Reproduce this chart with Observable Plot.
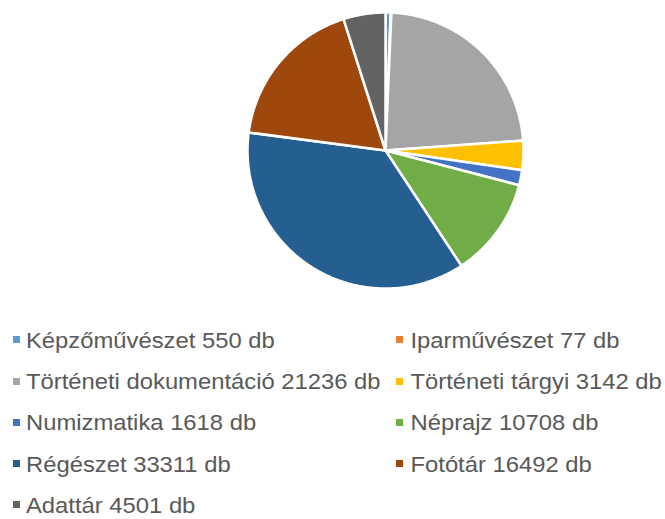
<!DOCTYPE html>
<html>
<head>
<meta charset="utf-8">
<script src="https://cdn.jsdelivr.net/npm/d3@7"></script>
<script src="https://cdn.jsdelivr.net/npm/@observablehq/plot@0.6"></script>
<style>
  html, body { margin: 0; padding: 0; background: #fff; }
  #wrap { position: relative; width: 665px; height: 519px; overflow: hidden; font-family: "Liberation Sans", Arial, sans-serif; }
  #chart { position: absolute; left: 0; top: 0; }
  .lg { position: absolute; white-space: nowrap; font-size: 23.8px; color: #595959; line-height: 24px; transform: scale(1, 0.92); transform-origin: 0 0; }
  .sw { position: absolute; width: 7px; height: 7px; }
</style>
</head>
<body>
<div id="wrap"><div id="chart"></div></div>
<script>
const categories = ["Képzőművészet", "Iparművészet", "Történeti dokumentáció", "Történeti tárgyi", "Numizmatika", "Néprajz", "Régészet", "Fotótár", "Adattár"];
const values = [550, 77, 21236, 3142, 1618, 10708, 33311, 16492, 4501];
const colors = ["#5B9BD5", "#ED7D31", "#A5A5A5", "#FFC000", "#4472C4", "#70AD47", "#255E91", "#9E480E", "#636363"];
const unit = "db";

const arcs = d3.pie().sort(null).value(d => d.value)(categories.map((c, i) => ({cat: c, value: values[i]})));
const pts = [];
for (const a of arcs) {
  const cat = a.data.cat;
  pts.push({cat, x: 0, y: 0});
  const n = Math.max(2, Math.ceil((a.endAngle - a.startAngle) / 0.01));
  for (let k = 0; k <= n; k++) {
    const t = a.startAngle + (a.endAngle - a.startAngle) * k / n;
    pts.push({cat, x: Math.sin(t), y: Math.cos(t)});
  }
  pts.push({cat, x: 0, y: 0});
}

const cx = 385, cy = 150, r = 138;
const plot = Plot.plot({
  width: 665,
  height: 300,
  margin: 0,
  x: {domain: [-1, 1], range: [cx - r, cx + r], axis: null},
  y: {domain: [-1, 1], range: [cy + r, cy - r], axis: null},
  color: {domain: categories, range: colors},
  marks: [
    Plot.line(pts, {x: "x", y: "y", z: "cat", fill: "cat", stroke: "white", strokeWidth: 2.5, strokeLinejoin: "miter", curve: "linear"})
  ]
});
document.getElementById("chart").appendChild(plot);

const wrap = document.getElementById("wrap");
const colX = [13, 396];
const textX = [26, 410.5];
categories.forEach((c, i) => {
  const col = i % 2, row = Math.floor(i / 2);
  const top = 329.6 + row * 41.3;
  const sw = document.createElement("div");
  sw.className = "sw";
  sw.style.left = colX[col] + "px";
  sw.style.top = (top + 6.6) + "px";
  sw.style.background = colors[i];
  wrap.appendChild(sw);
  const t = document.createElement("div");
  t.className = "lg";
  t.style.left = textX[col] + "px";
  t.style.top = top + "px";
  t.textContent = `${c} ${values[i]} ${unit}`;
  wrap.appendChild(t);
});
</script>
</body>
</html>
